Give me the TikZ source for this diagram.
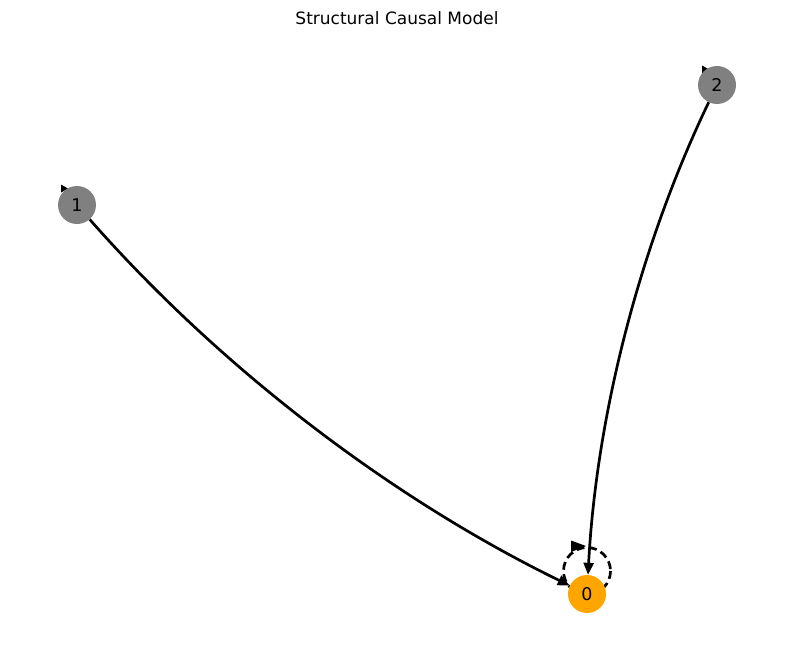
\documentclass[tikz,border=0pt]{standalone}
\usepackage{fontspec}
\setmainfont{DejaVu Sans}
\usetikzlibrary{arrows.meta}
\definecolor{nodegray}{HTML}{808080}
\definecolor{nodeorange}{HTML}{FFA500}
\tikzset{
  vertex/.style={circle, minimum size=38pt, inner sep=0pt, font=\fontsize{17.5}{19}\selectfont},
  edge/.style={line width=2.7pt, -{Triangle[length=12pt,width=10pt]}},
  loopline/.style={line width=2.7pt, dash pattern=on 8pt off 4.5pt},
  tiphead/.style={fill=black, draw=none}
}
\begin{document}
\begin{tikzpicture}[x=1pt,y=-1pt]
\useasboundingbox (0,0) rectangle (794,658);
\node[font=\fontsize{17}{19}\selectfont] (title) at (397,18) {Structural Causal Model};
% self loops (behind nodes)
\coordinate (loopc) at (587,571);
\draw[loopline] (loopc) circle[radius=23.5];
\fill[tiphead] (571,540.5) -- (586,546) -- (571,552) -- cycle;
\fill[tiphead] (61,184.5) -- (68,188.5) -- (61,192.5) -- cycle;
\fill[tiphead] (702,65.5) -- (709,69.5) -- (702,73.5) -- cycle;
% nodes
\node[vertex, fill=nodeorange] (n0) at (587,594) {0};
\node[vertex, fill=nodegray] (n1) at (77,205) {1};
\node[vertex, fill=nodegray] (n2) at (717,85) {2};
% edges
\draw[edge] (n1) .. controls (221.1,368.7) and (391.1,498.3) .. (n0);
\draw[edge] (n2) .. controls (639.7,246) and (596.4,415.7) .. (n0);
\end{tikzpicture}
\end{document}
